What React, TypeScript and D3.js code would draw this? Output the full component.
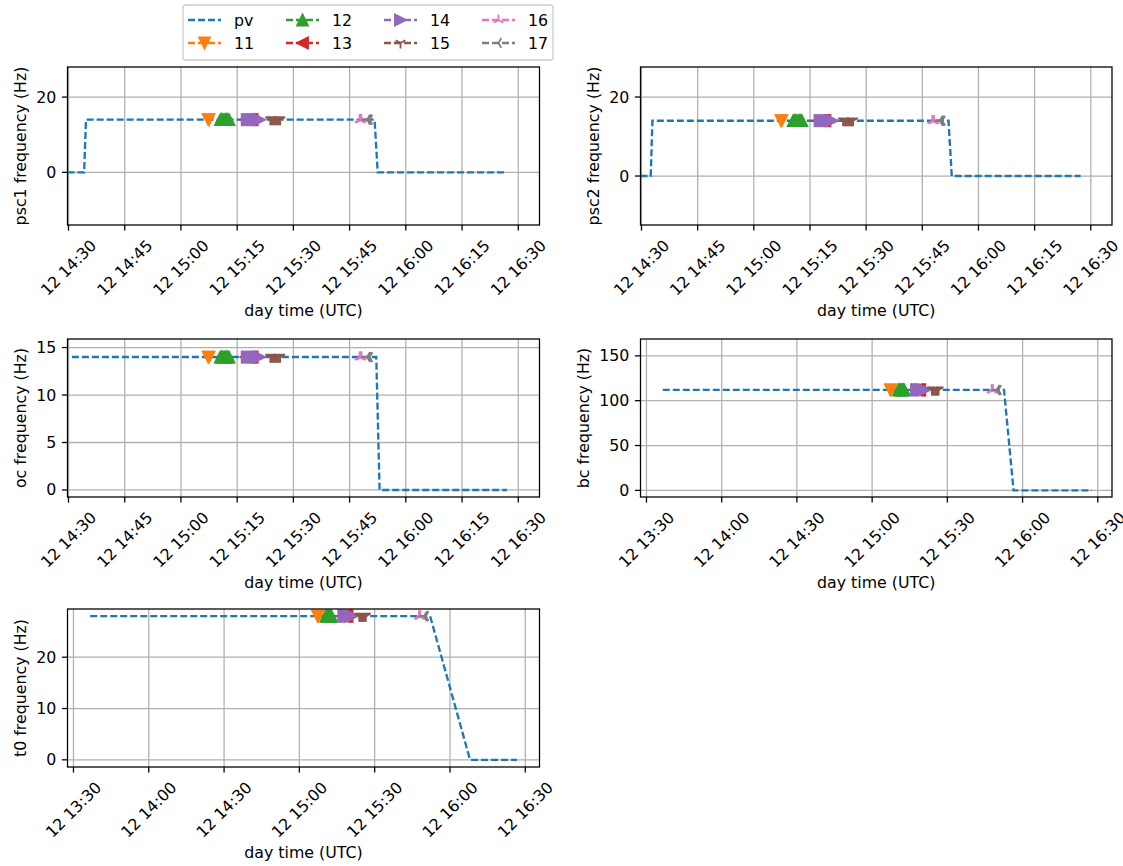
import React from "react";
import * as d3 from "d3";

// ---------- DATA ----------
// pv traces (time of day, frequency in Hz)
const psc1Times = ["14:29:44", "14:34:10", "14:34:40", "15:51:40", "15:52:30", "16:27:00"];
const psc1Values = [0, 0, 14, 14, 0, 0];
const psc2Times = ["14:29:44", "14:32:28", "14:32:55", "15:52:00", "15:52:52", "16:27:17"];
const psc2Values = [0, 0, 14, 14, 0, 0];
const ocTimes = ["14:30:54", "15:52:07", "15:53:00", "16:27:00"];
const ocValues = [14, 14, 0, 0];
const bcTimes = ["13:36:30", "15:52:36", "15:56:24", "16:27:36"];
const bcValues = [112, 112, 0, 0];
const t0Times = ["13:36:40", "15:52:06", "16:08:00", "16:26:40"];
const t0Values = [28, 28, 0, 0];

// marker series (sample times); value = panel level
const s11Times = ["15:07:15", "15:07:30"];
const s12Times = ["15:10:30", "15:10:50", "15:11:10", "15:11:30", "15:11:50", "15:12:10", "15:12:30", "15:12:50"];
const s13Times = ["15:17:20", "15:17:40", "15:18:00", "15:18:20", "15:18:40", "15:19:00"];
const s14Times = ["15:17:40", "15:18:00", "15:18:20", "15:18:40", "15:19:00", "15:19:20", "15:19:40", "15:20:00", "15:20:20", "15:20:40", "15:21:00"];
const s15Times = ["15:23:50", "15:24:10", "15:24:30", "15:24:50", "15:25:10", "15:25:30", "15:25:50", "15:26:10", "15:26:30"];
const s16Times = ["15:47:40", "15:47:50", "15:48:00", "15:48:10"];
const s17Times = ["15:49:40", "15:49:50", "15:50:00", "15:50:10", "15:50:20"];

// level of marker series in each panel (psc1, psc2, oc, bc, t0)
const markerLevels = [14, 14, 14, 112, 28];

// axis ticks
const ticks15 = ["14:30", "14:45", "15:00", "15:15", "15:30", "15:45", "16:00", "16:15", "16:30"];
const ticks30 = ["13:30", "14:00", "14:30", "15:00", "15:30", "16:00", "16:30"];
const pscYTicks = [0, 20];
const ocYTicks = [0, 5, 10, 15];
const bcYTicks = [0, 50, 100, 150];
const t0YTicks = [0, 10, 20];

const legendLabels = ["pv", "11", "12", "13", "14", "15", "16", "17"];

// ---------- STYLE ----------
const FONT = "DejaVu Sans, Verdana, sans-serif";
const FS = 15.8;
const LW = 2.35;
const DASH = "7,3";
const TICK = 5.6;
const THIN = 1.28;

const seriesStyle = [
  { name: "11", color: "#ff7f0e", marker: "v", times: s11Times },
  { name: "12", color: "#2ca02c", marker: "^", times: s12Times },
  { name: "13", color: "#d62728", marker: "<", times: s13Times },
  { name: "14", color: "#9467bd", marker: ">", times: s14Times },
  { name: "15", color: "#8c564b", marker: "1", times: s15Times },
  { name: "16", color: "#e377c2", marker: "2", times: s16Times },
  { name: "17", color: "#7f7f7f", marker: "3", times: s17Times },
];
const PV_COLOR = "#1f77b4";

const parseT = d3.timeParse("%H:%M:%S");
const parseHM = d3.timeParse("%H:%M");
const fmt = d3.timeFormat("12 %H:%M");

const R = 5.6; // marker half size

function markerPath(kind: string, r: number): string {
  const c = 0.8660254 * r;
  switch (kind) {
    case "v":
      return `M0,${r}L${-r},${-r}L${r},${-r}Z`;
    case "^":
      return `M0,${-r}L${-r},${r}L${r},${r}Z`;
    case "<":
      return `M${-r},0L${r},${-r}L${r},${r}Z`;
    case ">":
      return `M${r},0L${-r},${-r}L${-r},${r}Z`;
    case "1":
      return `M0,0L0,${r}M0,0L${c},${-r / 2}M0,0L${-c},${-r / 2}`;
    case "2":
      return `M0,0L0,${-r}M0,0L${c},${r / 2}M0,0L${-c},${r / 2}`;
    case "3":
      return `M0,0L${-r},0M0,0L${r / 2},${c}M0,0L${r / 2},${-c}`;
  }
  return "";
}
const isFilled = (k: string) => ["v", "^", "<", ">"].includes(k);

function Marker({ kind, color, x, y }: { kind: string; color: string; x: number; y: number }) {
  const filled = isFilled(kind);
  return (
    <path
      d={markerPath(kind, R)}
      transform={`translate(${x},${y})`}
      fill={filled ? color : "none"}
      stroke={color}
      strokeWidth={filled ? 1.6 : 1.8}
      strokeLinejoin="miter"
    />
  );
}

type PanelDef = {
  id: string;
  times: string[];
  values: number[];
  level: number;
  xDomain: [string, string];
  xTicks: string[];
  yDomain: [number, number];
  yTicks: number[];
  ylabel: string;
  box: { x0: number; x1: number; y0: number; y1: number };
};

const panels: PanelDef[] = [
  {
    id: "p1", times: psc1Times, values: psc1Values, level: markerLevels[0],
    xDomain: ["14:29:44", "16:35:40"], xTicks: ticks15, yDomain: [-14, 28], yTicks: pscYTicks,
    ylabel: "psc1 frequency (Hz)", box: { x0: 67.5, x1: 539.5, y0: 67, y1: 225 },
  },
  {
    id: "p2", times: psc2Times, values: psc2Values, level: markerLevels[1],
    xDomain: ["14:29:44", "16:35:40"], xTicks: ticks15, yDomain: [-12.4, 27.6], yTicks: pscYTicks,
    ylabel: "psc2 frequency (Hz)", box: { x0: 640.5, x1: 1112, y0: 67, y1: 225 },
  },
  {
    id: "p3", times: ocTimes, values: ocValues, level: markerLevels[2],
    xDomain: ["14:29:44", "16:35:40"], xTicks: ticks15, yDomain: [-0.74, 15.9], yTicks: ocYTicks,
    ylabel: "oc frequency (Hz)", box: { x0: 67.5, x1: 539.5, y0: 339, y1: 497 },
  },
  {
    id: "p4", times: bcTimes, values: bcValues, level: markerLevels[3],
    xDomain: ["13:27:37", "16:35:40"], xTicks: ticks30, yDomain: [-7.4, 168.8], yTicks: bcYTicks,
    ylabel: "bc frequency (Hz)", box: { x0: 640.5, x1: 1112, y0: 339, y1: 497 },
  },
  {
    id: "p5", times: t0Times, values: t0Values, level: markerLevels[4],
    xDomain: ["13:27:37", "16:35:40"], xTicks: ticks30, yDomain: [-1.4, 29.4], yTicks: t0YTicks,
    ylabel: "t0 frequency (Hz)", box: { x0: 67.5, x1: 539.5, y0: 609, y1: 767 },
  },
];

function Panel({ p }: { p: PanelDef }) {
  const { box } = p;
  const x = d3.scaleTime().domain([parseT(p.xDomain[0])!, parseT(p.xDomain[1])!]).range([box.x0, box.x1]);
  const y = d3.scaleLinear().domain(p.yDomain).range([box.y1, box.y0]);
  const line = d3
    .line<[Date, number]>()
    .x((d) => x(d[0]))
    .y((d) => y(d[1]));
  const pvData: [Date, number][] = p.times.map((t, i) => [parseT(t)!, p.values[i]]);
  const xt = p.xTicks.map((t) => parseHM(t)!);
  const labelW = 4.471 * FS;
  const labelH = 1.16 * FS;
  const rotH = (labelW + labelH) * Math.SQRT1_2;
  const labelCy = box.y1 + TICK + 5.6 + rotH / 2;
  const maxYLabelChars = d3.max(p.yTicks, (v) => String(v).length)!;
  const ylabelX = box.x0 - 11.2 - maxYLabelChars * 0.636 * FS - 15.5;
  const cx = (box.x0 + box.x1) / 2;
  const cy = (box.y0 + box.y1) / 2;
  return (
    <g>
      <defs>
        <clipPath id={`clip-${p.id}`}>
          <rect x={box.x0} y={box.y0} width={box.x1 - box.x0} height={box.y1 - box.y0} />
        </clipPath>
      </defs>
      <rect x={box.x0} y={box.y0} width={box.x1 - box.x0} height={box.y1 - box.y0} fill="white" />
      {/* grid */}
      <g stroke="#b0b0b0" strokeWidth={THIN}>
        {xt.map((t, i) => (
          <line key={`gx${i}`} x1={x(t)} x2={x(t)} y1={box.y0} y2={box.y1} />
        ))}
        {p.yTicks.map((v, i) => (
          <line key={`gy${i}`} x1={box.x0} x2={box.x1} y1={y(v)} y2={y(v)} />
        ))}
      </g>
      {/* data */}
      <g clipPath={`url(#clip-${p.id})`}>
        <path d={line(pvData)!} fill="none" stroke={PV_COLOR} strokeWidth={LW} strokeDasharray={DASH} />
        {seriesStyle.map((s) => {
          const pts: [Date, number][] = s.times.map((t) => [parseT(t)!, p.level]);
          return (
            <g key={s.name}>
              <path d={line(pts)!} fill="none" stroke={s.color} strokeWidth={LW} strokeDasharray={DASH} />
              {pts.map((d, i) => (
                <Marker key={i} kind={s.marker} color={s.color} x={x(d[0])} y={y(d[1])} />
              ))}
            </g>
          );
        })}
      </g>
      {/* spines */}
      <rect x={box.x0} y={box.y0} width={box.x1 - box.x0} height={box.y1 - box.y0} fill="none" stroke="#000" strokeWidth={THIN} />
      {/* x ticks */}
      {xt.map((t, i) => (
        <g key={`xt${i}`}>
          <line x1={x(t)} x2={x(t)} y1={box.y1} y2={box.y1 + TICK} stroke="#000" strokeWidth={THIN} />
          <text
            transform={`translate(${x(t)},${labelCy}) rotate(-45)`}
            textAnchor="middle"
            dominantBaseline="central"
            fontFamily={FONT}
            fontSize={FS}
            fill="#000"
          >
            {fmt(t)}
          </text>
        </g>
      ))}
      {/* y ticks */}
      {p.yTicks.map((v, i) => (
        <g key={`yt${i}`}>
          <line x1={box.x0 - TICK} x2={box.x0} y1={y(v)} y2={y(v)} stroke="#000" strokeWidth={THIN} />
          <text x={box.x0 - 11.2} y={y(v)} textAnchor="end" dominantBaseline="central" fontFamily={FONT} fontSize={FS} fill="#000">
            {String(v)}
          </text>
        </g>
      ))}
      {/* labels */}
      <text
        x={cx}
        y={box.y1 + 85}
        textAnchor="middle"
        dominantBaseline="central"
        fontFamily={FONT}
        fontSize={FS}
        fill="#000"
      >
        day time (UTC)
      </text>
      <text
        transform={`translate(${ylabelX},${cy}) rotate(-90)`}
        textAnchor="middle"
        dominantBaseline="central"
        fontFamily={FONT}
        fontSize={FS}
        fill="#000"
      >
        {p.ylabel}
      </text>
    </g>
  );
}

function Legend() {
  const colX = [188, 286, 384, 482];
  const rowY = [20, 43];
  const handleLen = 33;
  const entries = legendLabels.map((label, i) => {
    const col = Math.floor(i / 2);
    const row = i % 2;
    const st = i === 0 ? null : seriesStyle[i - 1];
    return { label, x: colX[col], y: rowY[row], st };
  });
  return (
    <g>
      <rect x={183} y={5} width={370} height={55} rx={3} fill="white" fillOpacity={0.8} stroke="#cccccc" strokeWidth={THIN} />
      {entries.map((e) => (
        <g key={e.label}>
          <line
            x1={e.x}
            x2={e.x + handleLen}
            y1={e.y}
            y2={e.y}
            stroke={e.st ? e.st.color : PV_COLOR}
            strokeWidth={LW}
            strokeDasharray={DASH}
          />
          {e.st && <Marker kind={e.st.marker} color={e.st.color} x={e.x + handleLen / 2} y={e.y} />}
          <text x={e.x + 46} y={e.y} dominantBaseline="central" fontFamily={FONT} fontSize={FS} fill="#000">
            {e.label}
          </text>
        </g>
      ))}
    </g>
  );
}

export default function App() {
  return (
    <svg
      width={1123}
      height={866}
      style={{ position: "absolute", left: 0, top: 0, background: "white" }}
    >
      <rect x={0} y={0} width={1123} height={866} fill="white" />
      {panels.map((p) => (
        <Panel key={p.id} p={p} />
      ))}
      <Legend />
    </svg>
  );
}
